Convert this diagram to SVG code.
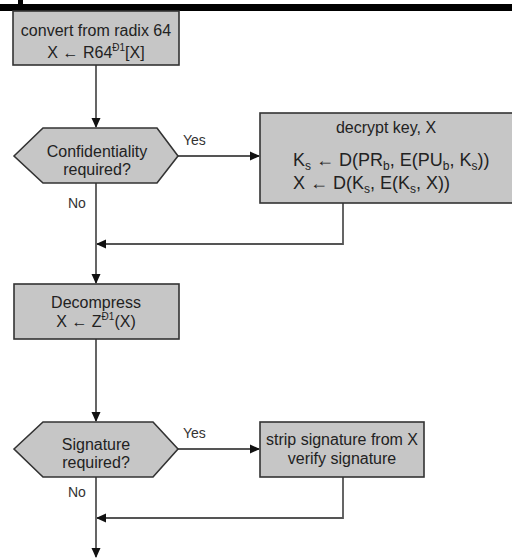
<svg xmlns="http://www.w3.org/2000/svg" width="512" height="558" viewBox="0 0 512 558">
<defs>
<style>
.box{fill:#c6c6c6;stroke:#333;stroke-width:1.6}
.ln{fill:none;stroke:#555;stroke-width:1.8}
text{font-family:"Liberation Sans","Open Sans",sans-serif;fill:#222}
.t{font-size:16px;text-anchor:middle}
.m{font-size:18px}
.lab{font-size:14px;fill:#333}
.sub{font-size:12px}
.sup{font-size:10px}
</style>
<marker id="ah" markerWidth="10" markerHeight="10" refX="9" refY="5" orient="auto" markerUnits="userSpaceOnUse">
<path d="M0,0.5 L10,5 L0,9.5 Z" fill="#111"/>
</marker>
</defs>
<rect width="512" height="558" fill="#fff"/>
<rect x="0" y="4" width="512" height="7" fill="#000"/>
<rect x="18" y="0" width="5" height="5" fill="#000"/>

<g id="connectors">
<line class="ln" x1="96" y1="65" x2="96" y2="127" marker-end="url(#ah)"/>
<line class="ln" x1="178" y1="156" x2="259" y2="156" marker-end="url(#ah)"/>
<polyline class="ln" points="343,203 343,244 97,244" marker-end="url(#ah)"/>
<line class="ln" x1="96" y1="183" x2="96" y2="283" marker-end="url(#ah)"/>
<line class="ln" x1="96" y1="339" x2="96" y2="421" marker-end="url(#ah)"/>
<line class="ln" x1="178" y1="449" x2="259" y2="449" marker-end="url(#ah)"/>
<polyline class="ln" points="343,477 343,518 97,518" marker-end="url(#ah)"/>
<line class="ln" x1="96" y1="477" x2="96" y2="557" marker-end="url(#ah)"/>
<text class="lab" x="183" y="145">Yes</text>
<text class="lab" x="68" y="208">No</text>
<text class="lab" x="183" y="438">Yes</text>
<text class="lab" x="68" y="497">No</text>
</g>

<g id="convert">
<rect class="box" x="13" y="11" width="166" height="54"/>
<text class="t" x="96" y="36">convert from radix 64</text>
<text class="t" x="96" y="58">X ← R64<tspan class="sup" dy="-7">Ð1</tspan><tspan dy="7">[X]</tspan></text>
</g>

<g id="confidentiality">
<polygon class="box" points="14,156 43,128 157,128 178,156 157,183 43,183"/>
<text class="t" x="97" y="157">Confidentiality</text>
<text class="t" x="97" y="175">required?</text>
</g>

<g id="decrypt">
<rect class="box" x="260" y="113" width="260" height="90"/>
<text class="t" x="386" y="133">decrypt key, X</text>
<text class="m" x="293" y="166">K<tspan class="sub" dy="4">s</tspan><tspan dy="-4"> ← D(PR</tspan><tspan class="sub" dy="4">b</tspan><tspan dy="-4">, E(PU</tspan><tspan class="sub" dy="4">b</tspan><tspan dy="-4">, K</tspan><tspan class="sub" dy="4">s</tspan><tspan dy="-4">))</tspan></text>
<text class="m" x="293" y="189">X ← D(K<tspan class="sub" dy="4">s</tspan><tspan dy="-4">, E(K</tspan><tspan class="sub" dy="4">s</tspan><tspan dy="-4">, X))</tspan></text>
</g>

<g id="decompress">
<rect class="box" x="14" y="284" width="165" height="55"/>
<text class="t" x="96" y="308">Decompress</text>
<text class="t" x="96" y="327">X ← Z<tspan class="sup" dy="-7">Ð1</tspan><tspan dy="7">(X)</tspan></text>
</g>

<g id="signature">
<polygon class="box" points="14,449 43,422 153,422 178,449 153,477 43,477"/>
<text class="t" x="96" y="450">Signature</text>
<text class="t" x="96" y="468">required?</text>
</g>

<g id="strip">
<rect class="box" x="260" y="422" width="164" height="55"/>
<text class="t" x="342" y="445">strip signature from X</text>
<text class="t" x="342" y="464">verify signature</text>
</g>
</svg>
